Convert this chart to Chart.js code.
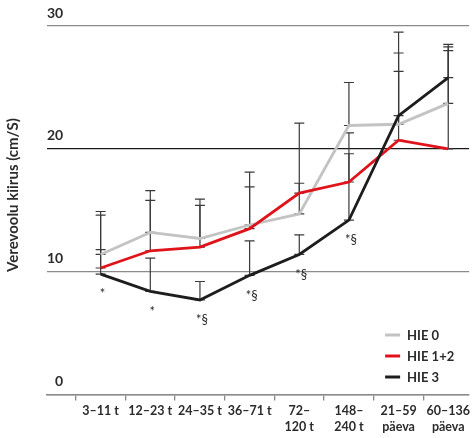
<!DOCTYPE html>
<html lang="et">
<head>
<meta charset="UTF-8">
<script src="https://cdn.jsdelivr.net/npm/chart.js@4.4.1/dist/chart.umd.min.js"></script>
<title>Verevoolu kiirus</title>
<style>
  html, body { margin: 0; padding: 0; background: #fff; }
  #wrap { width: 472px; height: 438px; }
</style>
</head>
<body>
<div id="wrap"><canvas id="chart"></canvas></div>
<script>
// vanuseperioodid (x-telg)
const periods = [['3–11 t'], ['12–23 t'], ['24–35 t'], ['36–71 t'], ['72–', '120 t'], ['148–', '240 t'], ['21–59', 'päeva'], ['60–136', 'päeva']];
const yTicks = [0, 10, 20, 30];

// keskmised väärtused
const hie0 = [11.4, 13.2, 12.7, 13.8, 14.7, 21.9, 22.0, 23.7];
const hie12 = [10.3, 11.7, 12.0, 13.5, 16.4, 17.3, 20.7, 20.0];
const hie3 = [9.8, 8.4, 7.7, 9.7, 11.4, 14.2, 22.7, 25.8];

// vearibade ülemised otsad
const hie0Upper = [14.9, 16.6, 15.9, 18.1, 17.2, 25.4, 26.3, 28.0];
const hie12Upper = [14.6, 15.8, 15.4, 16.9, 22.1, 21.3, 27.8, 28.3];
const hie3Upper = [11.8, 11.1, 9.2, 12.5, 13.0, 19.6, 29.5, 28.5];

// olulisuse märgid HIE 3 all
const marks = ['*', '*', '*§', '*§', '*§', '*§', '', ''];

const textColor = '#2b2b2b';
const fontFamily = 'Lato, "Open Sans", sans-serif';

function points(arr) {
  return arr.map((v, i) => ({ x: i, y: v }));
}

const errorBars = {
  id: 'errorBars',
  beforeDatasetsDraw(chart) {
    const { ctx, scales: { x, y } } = chart;
    ctx.save();
    ctx.strokeStyle = '#3a3a3a';
    ctx.lineWidth = 1.2;
    chart.data.datasets.forEach(ds => {
      ds.upper.forEach((u, i) => {
        const px = x.getPixelForValue(i);
        const y0 = y.getPixelForValue(ds.data[i].y);
        const y1 = y.getPixelForValue(u);
        ctx.beginPath();
        ctx.moveTo(px, y0); ctx.lineTo(px, y1);
        ctx.moveTo(px - 5, y1); ctx.lineTo(px + 5, y1);
        ctx.moveTo(px - 5, y0); ctx.lineTo(px + 5, y0);
        ctx.stroke();
      });
    });
    ctx.restore();
  }
};

const extras = {
  id: 'extras',
  afterDraw(chart) {
    const { ctx, chartArea, scales: { x, y } } = chart;
    ctx.save();
    // olulisuse märgid
    ctx.fillStyle = textColor;
    ctx.font = '13px ' + fontFamily;
    ctx.textAlign = 'center';
    ctx.textBaseline = 'middle';
    marks.forEach((m, i) => {
      if (!m) return;
      ctx.fillText(m, x.getPixelForValue(i) + 2, y.getPixelForValue(hie3[i]) + 20);
    });
    // legend
    ctx.font = 'bold 13px ' + fontFamily;
    ctx.textAlign = 'left';
    chart.data.datasets.forEach((ds, i) => {
      const ly = 335 + i * 21;
      const lx = chartArea.right - 84;
      ctx.strokeStyle = ds.borderColor;
      ctx.lineWidth = 3;
      ctx.beginPath();
      ctx.moveTo(lx, ly); ctx.lineTo(lx + 15, ly);
      ctx.stroke();
      ctx.fillText(ds.label, lx + 22, ly + 1);
    });
    // y-telje pealkiri
    ctx.translate(13, 195);
    ctx.rotate(-Math.PI / 2);
    ctx.textAlign = 'center';
    ctx.font = 'bold 15px ' + fontFamily;
    ctx.fillText('Verevoolu kiirus (cm/S)', 0, 0);
    ctx.restore();
  }
};

new Chart(document.getElementById('chart'), {
  type: 'line',
  data: {
    datasets: [
      { label: 'HIE 0', data: points(hie0), upper: hie0Upper, borderColor: '#c3c3c3', order: 3 },
      { label: 'HIE 1+2', data: points(hie12), upper: hie12Upper, borderColor: '#e0131b', order: 2 },
      { label: 'HIE 3', data: points(hie3), upper: hie3Upper, borderColor: '#1d1d1d', order: 1 }
    ]
  },
  options: {
    responsive: true,
    maintainAspectRatio: false,
    animation: false,
    layout: { padding: { left: 47, top: 26, right: 0, bottom: 1 } },
    elements: {
      line: { borderWidth: 2.8, tension: 0, fill: false },
      point: { radius: 0, hoverRadius: 0 }
    },
    plugins: { legend: { display: false }, tooltip: { enabled: false } },
    scales: {
      x: {
        type: 'linear',
        min: -1.08,
        max: 7.42,
        afterBuildTicks: s => { s.ticks = periods.map((p, i) => ({ value: i })); },
        grid: { drawOnChartArea: false, drawTicks: true, tickLength: 6, offset: true, color: '#8a8a8a', lineWidth: 1.3 },
        border: { display: true, color: '#8a8a8a', width: 1.5 },
        ticks: {
          autoSkip: false,
          maxRotation: 0,
          padding: 2,
          color: textColor,
          font: { family: fontFamily, size: 12.5, weight: 'bold', lineHeight: 1.3 },
          callback: v => periods[v]
        }
      },
      y: {
        min: 0,
        max: 30,
        afterBuildTicks: s => { s.ticks = yTicks.map(v => ({ value: v })); },
        grid: {
          drawTicks: false,
          lineWidth: 1.3,
          color: c => (c.tick && c.tick.value === 20 ? '#1a1a1a' : '#8a8a8a')
        },
        border: { display: false },
        ticks: {
          mirror: true,
          crossAlign: 'far',
          padding: 0,
          labelOffset: -13,
          color: textColor,
          font: { family: fontFamily, size: 14, weight: 'bold' }
        }
      }
    }
  },
  plugins: [errorBars, extras]
});
</script>
</body>
</html>
